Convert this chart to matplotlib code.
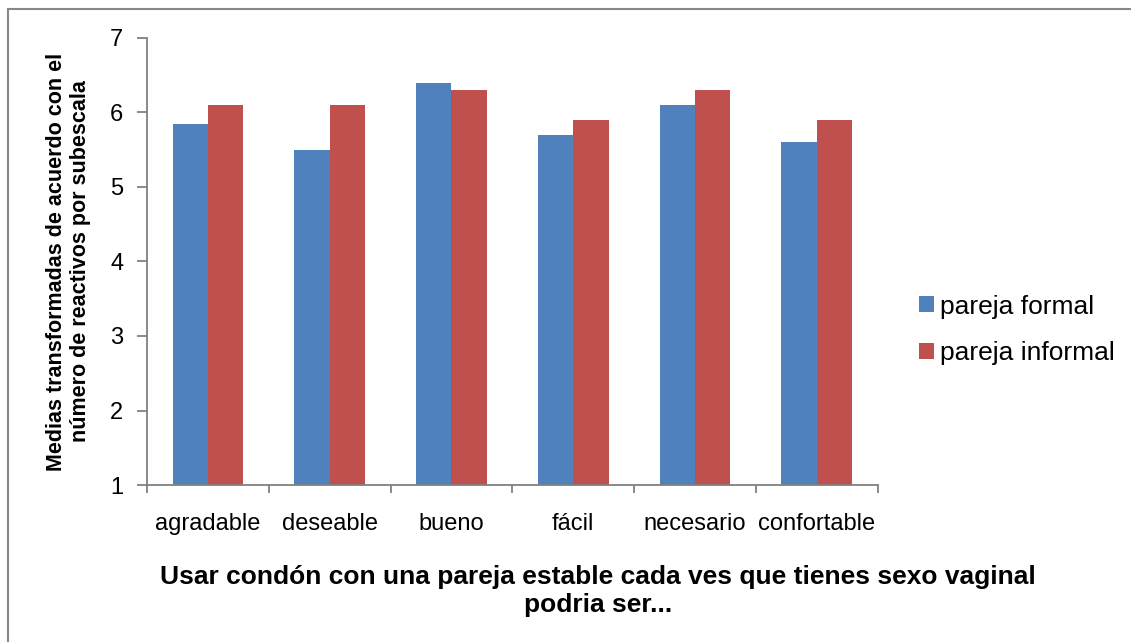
import numpy as np
import matplotlib
matplotlib.use('Agg')
from matplotlib import pyplot as plt
from matplotlib.patches import Rectangle

plt.rcParams['font.family'] = ['Liberation Sans', 'DejaVu Sans']

categorias = ['agradable', 'deseable', 'bueno', 'fácil', 'necesario', 'confortable']
formal = [5.85, 5.5, 6.4, 5.7, 6.1, 5.6]
informal = [6.1, 6.1, 6.3, 5.9, 6.3, 5.9]
series = ['pareja formal', 'pareja informal']
colores = ['#4F81BD', '#C0504D']

fig = plt.figure(figsize=(11.31, 6.42), dpi=100)
ax = fig.add_axes([0.130, 0.2445, 0.646, 0.6965])

x = np.arange(len(categorias))
w = 0.29
ax.bar(x - w / 2, np.array(formal) - 1, w, bottom=1, color=colores[0], label=series[0])
ax.bar(x + w / 2, np.array(informal) - 1, w, bottom=1, color=colores[1], label=series[1])

ax.set_xlim(-0.5, len(categorias) - 0.5)
ax.set_ylim(1, 7)
ax.set_yticks(range(1, 8))
ax.set_xticks(x)
ax.set_xticklabels(categorias, fontsize=17)
ax.tick_params(axis='x', length=0, pad=20)
ax.set_xticks(np.arange(-0.5, len(categorias)), minor=True)
ax.tick_params(axis='x', which='minor', length=6, color='#808080', width=1.3)
ax.tick_params(axis='y', labelsize=17, length=7, color='#808080', width=1.3, pad=10)
for s in ['top', 'right']:
    ax.spines[s].set_visible(False)
for s in ['left', 'bottom']:
    ax.spines[s].set_color('#808080')
    ax.spines[s].set_linewidth(1.3)

ax.set_ylabel('Medias transformadas de acuerdo con el\nnúmero de reactivos por subescala',
              fontsize=15.5, fontweight='bold', labelpad=14, linespacing=1.15)
ax.set_xlabel('Usar condón con una pareja estable cada ves que tienes sexo vaginal\npodria ser...',
              fontsize=19, fontweight='bold', linespacing=1.25)
ax.xaxis.set_label_coords(0.617, -0.178)

ax.legend(loc='center left', bbox_to_anchor=(919 / 1131, 1 - 330 / 642),
          bbox_transform=fig.transFigure, frameon=False, fontsize=19,
          handlelength=0.55, handleheight=0.55, handletextpad=0.25, labelspacing=0.85,
          borderpad=0, borderaxespad=0)

fig.patches.append(Rectangle((8 / 1131, -0.1), 1.2, 1.1 - 9 / 642, transform=fig.transFigure,
                             fill=False, edgecolor='#888888', linewidth=1.5))

fig.savefig('out.png', dpi=100)
